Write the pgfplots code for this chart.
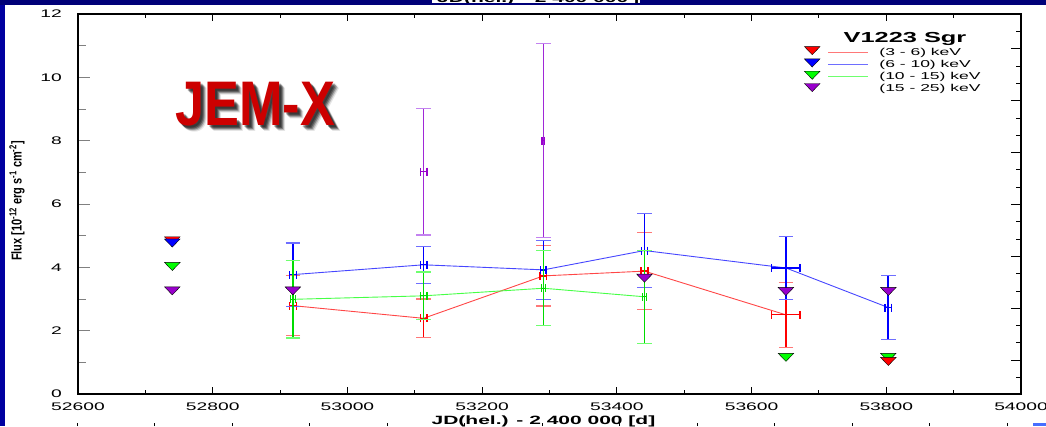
\documentclass[border=0pt]{standalone}
\usepackage{pgfplots}
\pgfplotsset{compat=1.18}
\usepackage{pgfplotstable}
\usepackage{fontspec}
\setmainfont{Liberation Sans}
\newfontfamily\wfont[FakeStretch=1.75]{Liberation Sans}

\definecolor{cred}{RGB}{255,0,0}
\definecolor{credl}{RGB}{255,70,70}
\definecolor{credc}{RGB}{255,120,120}
\definecolor{cblue}{RGB}{0,0,255}
\definecolor{cbluel}{RGB}{70,70,255}
\definecolor{cbluec}{RGB}{110,110,255}
\definecolor{cgreen}{RGB}{0,220,0}
\definecolor{cgreenl}{RGB}{70,255,70}
\definecolor{cgreenc}{RGB}{110,255,110}
\definecolor{cgreent}{RGB}{0,255,0}
\definecolor{cpurp}{RGB}{153,0,204}
\definecolor{cpurpe}{RGB}{160,40,215}
\definecolor{cpurpc}{RGB}{195,130,240}
\definecolor{navyb}{RGB}{0,0,160}
\definecolor{navyt}{RGB}{0,0,120}
\definecolor{jemred}{RGB}{204,0,0}
\definecolor{boxblue}{RGB}{70,110,255}

\pgfplotstableread{
x y ex ey
52919 2.79 5 0.95
53113 2.39 5 0.61
53291 3.73 5 0.95
53441 3.88 5 1.21
53651 2.50 21 1.03
}\tred
\pgfplotstableread{
x y ex ey
52919 3.77 5 1.00
53113 4.08 5 0.58
53291 3.92 4 0.93
53441 4.53 4 1.17
53651 3.98 21 1.00
53803 2.73 5 1.02
}\tblue
\pgfplotstableread{
x y ex ey
52919 2.99 4 1.22
53113 3.10 5 0.75
53291 3.34 3 1.18
53441 3.07 3 1.47
}\tgreen
\pgfplotstableread{
x y ex ey
53113 7.02 5 2.00
53291 8.00 2 3.07
}\tpurple
\pgfplotstableread{
x y
52740 4.88
53803 1.07
}\ulred
\pgfplotstableread{
x y
52740 4.81
}\ulblue
\pgfplotstableread{
x y
52740 4.07
53651 1.20
53803 1.20
}\ulgreen
\pgfplotstableread{
x y
52740 3.30
52919 3.30
53441 3.70
53651 3.28
53803 3.28
}\ulpurple

\pgfplotsset{
  myframe/.style={at={(O)}, anchor=south west, scale only axis,
    width=943bp, height=380bp, xmin=52600, xmax=54000, clip=false},
  yerrs/.style n args={2}{error bars/.cd, y dir=both, y explicit,
    error bar style={#1, line width=1.8pt},
    error mark options={rotate=90, mark size=7.3bp, #2, line width=1.2pt}},
  xerrs/.style={error bars/.cd, x dir=both, x explicit,
    error bar style={#1, line width=1.3pt},
    error mark options={rotate=90, mark size=4bp, #1, line width=1.3pt}},
  ul/.style={only marks, mark=triangle*, mark size=9bp,
    mark options={rotate=180, yscale=0.6, fill=#1, draw=none}, forget plot},
}

\begin{document}
\begin{tikzpicture}
% frame decorations
\begin{scope}[x=1bp, y=1bp]
\fill[white] (0,0) rectangle (1046,426);
\fill[navyb] (0,0) rectangle (5,426);
\fill[navyt] (0,421) rectangle (1046,426);
\fill[white] (432,423) rectangle (640,426);
\begin{scope}
\clip (432,423) rectangle (640,426);
\node[anchor=base west, inner sep=0pt, font=\wfont\bfseries\fontsize{12bp}{14bp}\selectfont] at (437,423.6) {JD(hel.) - 2 400 000 [d]};
\end{scope}
\foreach \k in {0,...,12} \draw[black, line width=0.6bp] ({77+77.5*\k},0) -- ++(0,3);
\fill[boxblue] (1033,0) rectangle (1046,3);
\coordinate (O) at (78,32);
\end{scope}

% main axis with data and y ticks
\begin{axis}[myframe, ymin=0, ymax=12,
  xtick=\empty,
  ytick={0,2,...,12}, minor y tick num=1, ytick pos=left,
  tick align=inside, major tick length=12bp, minor tick length=8bp,
  y tick style={black!50, line width=0.9pt},
  axis line style={line width=1.2pt},
  /pgf/number format/assume math mode=true,
  yticklabel style={font=\wfont\fontsize{11bp}{13bp}\selectfont, anchor=east, inner sep=0pt, xshift=-16bp},
  legend style={at={(rel axis cs:0.7699,0.9142)}, anchor=north west, draw=none, fill=none,
    inner sep=0pt, outer sep=0pt, row sep=1.35bp, column sep=0pt,
    font=\wfont\fontsize{10bp}{12bp}\selectfont,
    nodes={inner sep=0pt, text height=8bp, text depth=2.5bp}},
  legend cell align=left,
]
% red
\addplot[credl, line width=0.9pt, mark=none, forget plot, yerrs={cred}{credc}] table[x=x, y=y, y error=ey]{\tred};
\addplot[draw=none, mark=none, forget plot, xerrs=cred] table[x=x, y=y, x error=ex]{\tred};
% blue
\addplot[cbluel, line width=0.9pt, mark=none, forget plot, yerrs={cblue}{cbluec}] table[x=x, y=y, y error=ey]{\tblue};
\addplot[draw=none, mark=none, forget plot, xerrs=cblue] table[x=x, y=y, x error=ex]{\tblue};
% green
\addplot[cgreenl, line width=0.9pt, mark=none, forget plot, yerrs={cgreen}{cgreenc}] table[x=x, y=y, y error=ey]{\tgreen};
\addplot[draw=none, mark=none, forget plot, xerrs=cgreen] table[x=x, y=y, x error=ex]{\tgreen};
% purple
\addplot[draw=none, mark=none, forget plot, yerrs={cpurpe}{cpurpc}] table[x=x, y=y, y error=ey]{\tpurple};
\addplot[draw=none, mark=none, forget plot, xerrs=cpurp] table[x=x, y=y, x error=ex]{\tpurple};
% upper limits
\addplot[ul=cgreent] table[x=x, y=y]{\ulgreen};
\addplot[ul=cred] table[x=x, y=y]{\ulred};
\addplot[ul=cblue] table[x=x, y=y]{\ulblue};
\addplot[ul=cpurp] table[x=x, y=y]{\ulpurple};
% legend
\addlegendimage{legend image code/.code={
  \path (-8bp,0) (67bp,0);
  \draw[credc, line width=0.9pt] (16bp,0) -- (56bp,0);
  \path[mark=triangle*, mark size=9bp, mark options={rotate=180, yscale=0.6, fill=cred, draw=none}] plot coordinates {(0bp,3bp)};
}}
\addlegendimage{legend image code/.code={
  \path (-8bp,0) (67bp,0);
  \draw[cbluec, line width=0.9pt] (16bp,0) -- (56bp,0);
  \path[mark=triangle*, mark size=9bp, mark options={rotate=180, yscale=0.6, fill=cblue, draw=none}] plot coordinates {(0bp,3bp)};
}}
\addlegendimage{legend image code/.code={
  \path (-8bp,0) (67bp,0);
  \draw[cgreenc, line width=0.9pt] (16bp,0) -- (56bp,0);
  \path[mark=triangle*, mark size=9bp, mark options={rotate=180, yscale=0.6, fill=cgreent, draw=none}] plot coordinates {(0bp,3bp)};
}}
\addlegendimage{legend image code/.code={
  \path (-8bp,0) (67bp,0);
  \path[mark=triangle*, mark size=9bp, mark options={rotate=180, yscale=0.6, fill=cpurp, draw=none}] plot coordinates {(0bp,3bp)};
}}
\legend{(3 - 6) keV, (6 - 10) keV, (10 - 15) keV, (15 - 25) keV}
\end{axis}

% x ticks
\begin{axis}[myframe, ymin=0, ymax=12, hide y axis, axis line style={draw=none},
  xtick={52600,52800,...,54000}, minor x tick num=1, xtick pos=both,
  tick align=inside, major tick length=7bp, minor tick length=4.5bp,
  x tick style={black, line width=0.9pt},
  scaled x ticks=false,
  /pgf/number format/assume math mode=true,
  /pgf/number format/1000 sep={},
  xticklabel style={font=\wfont\fontsize{11bp}{13bp}\selectfont, anchor=base, yshift=-16bp},
]
\end{axis}

% right-side ticks
\begin{axis}[myframe, ymin=0, ymax=380, hide x axis, axis line style={draw=none},
  ytick={16.6,33.9,...,380}, yticklabels={}, ytick pos=right,
  tick align=inside, major tick length=5bp,
  y tick style={black, line width=0.8pt},
  extra y ticks={33.9,85.8,...,346}, extra y tick labels={},
  extra y tick style={major tick length=10bp, tick style={black!40, line width=1pt}},
]
\end{axis}

% texts
\begin{scope}[x=1bp, y=1bp]
\node[anchor=base, inner sep=0pt, font=\wfont\bfseries\fontsize{14.5bp}{16bp}\selectfont] at (905,383.3) {V1223 Sgr};
\foreach \d/\op in {2/0.3,3/0.35,4/0.3,5/0.2,6/0.1}
  \node[anchor=base, inner sep=0pt, text=black, opacity=\op, font=\bfseries\fontsize{63bp}{63bp}\selectfont] at (255+\d,301-\d) {\scalebox{0.83}[1]{JEM-X}};
\node[anchor=base, inner sep=0pt, text=jemred, font=\bfseries\fontsize{63bp}{63bp}\selectfont] at (255,301) {\scalebox{0.83}[1]{JEM-X}};
\node[rotate=90, inner sep=0pt, font=\bfseries\fontsize{11bp}{13bp}\selectfont] at (17,225) {\scalebox{1}[1.3]{Flux [10\textsuperscript{-12} erg s\textsuperscript{-1} cm\textsuperscript{-2}]}};
\node[anchor=base, inner sep=0pt, font=\wfont\bfseries\fontsize{12bp}{14bp}\selectfont] at (543.5,1.5) {JD(hel.) - 2 400 000 [d]};
\pgfresetboundingbox
\useasboundingbox (0,0) rectangle (1046,426);
\end{scope}
\end{tikzpicture}
\end{document}
